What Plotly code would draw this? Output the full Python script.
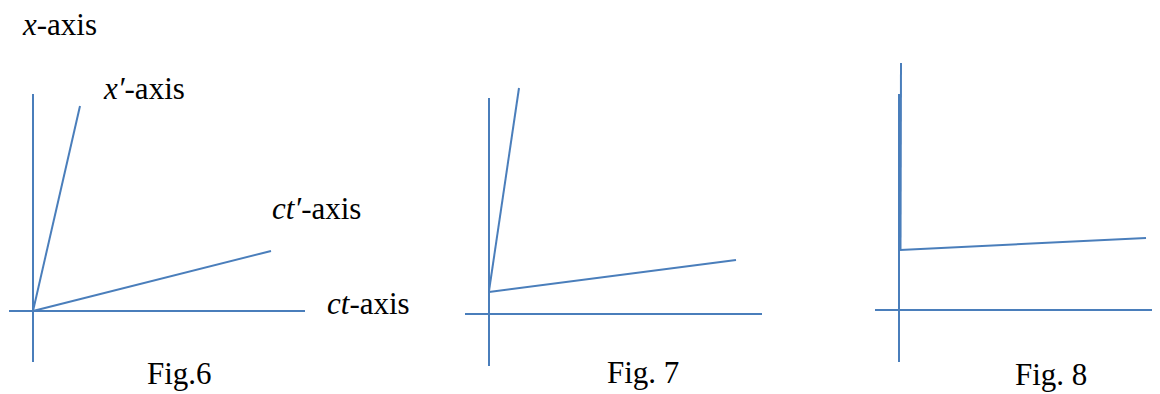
import plotly.graph_objects as go

# ---- Data: line segments of each diagram (drawing units, y grows downward) ----
# Fig. 6
fig6_vertical_x = [33, 33]
fig6_vertical_y = [94, 362]
fig6_horizontal_x = [9, 305]
fig6_horizontal_y = [311, 311]
fig6_xprime_x = [33, 80]
fig6_xprime_y = [311, 106]
fig6_ctprime_x = [33, 271]
fig6_ctprime_y = [311, 251]

# Fig. 7
fig7_vertical_x = [489, 489]
fig7_vertical_y = [98, 366]
fig7_horizontal_x = [465, 762]
fig7_horizontal_y = [314, 314]
fig7_steep_x = [489, 519]
fig7_steep_y = [291, 88]
fig7_shallow_x = [489, 736]
fig7_shallow_y = [292, 260]

# Fig. 8
fig8_vertical_x = [899, 899]
fig8_vertical_y = [94, 362]
fig8_horizontal_x = [875, 1160]
fig8_horizontal_y = [310, 310]
fig8_steep_x = [900.5, 901]
fig8_steep_y = [249, 63]
fig8_shallow_x = [900, 1146]
fig8_shallow_y = [250, 238]

# Labels
label_texts = ["<i>x</i>-axis", "<i>x′</i>-axis", "<i>ct′</i>-axis", "<i>ct</i>-axis",
               "Fig.6", "Fig. 7", "Fig. 8"]
label_x = [20, 101, 270, 325, 145, 605, 1013]
label_y = [24, 88, 208, 303, 373, 372, 374]

LINE_COLOR = "#4A7EBB"
PAGE_MARGIN = 8  # default body margin of the HTML page

segments = [
    (fig6_vertical_x, fig6_vertical_y), (fig6_horizontal_x, fig6_horizontal_y),
    (fig6_xprime_x, fig6_xprime_y), (fig6_ctprime_x, fig6_ctprime_y),
    (fig7_vertical_x, fig7_vertical_y), (fig7_horizontal_x, fig7_horizontal_y),
    (fig7_steep_x, fig7_steep_y), (fig7_shallow_x, fig7_shallow_y),
    (fig8_vertical_x, fig8_vertical_y), (fig8_horizontal_x, fig8_horizontal_y),
    (fig8_steep_x, fig8_steep_y), (fig8_shallow_x, fig8_shallow_y),
]

fig = go.Figure()
for xs, ys in segments:
    fig.add_trace(go.Scatter(x=xs, y=ys, mode="lines",
                             line=dict(color=LINE_COLOR, width=2),
                             hoverinfo="skip", showlegend=False, cliponaxis=False))

for t, x, y in zip(label_texts, label_x, label_y):
    fig.add_annotation(text=t, x=x, y=y, xref="x", yref="y",
                       xanchor="left", yanchor="middle", showarrow=False,
                       font=dict(family="Liberation Serif",
                                 size=31, color="#000000"))

W, H = 1160, 394
fig.update_layout(
    width=W - PAGE_MARGIN, height=H - PAGE_MARGIN,
    margin=dict(l=0, r=0, t=0, b=0),
    paper_bgcolor="white", plot_bgcolor="white",
    xaxis=dict(range=[PAGE_MARGIN, W], visible=False, fixedrange=True),
    yaxis=dict(range=[H, PAGE_MARGIN], visible=False, fixedrange=True),
    showlegend=False,
)

fig.write_html("out.html")
